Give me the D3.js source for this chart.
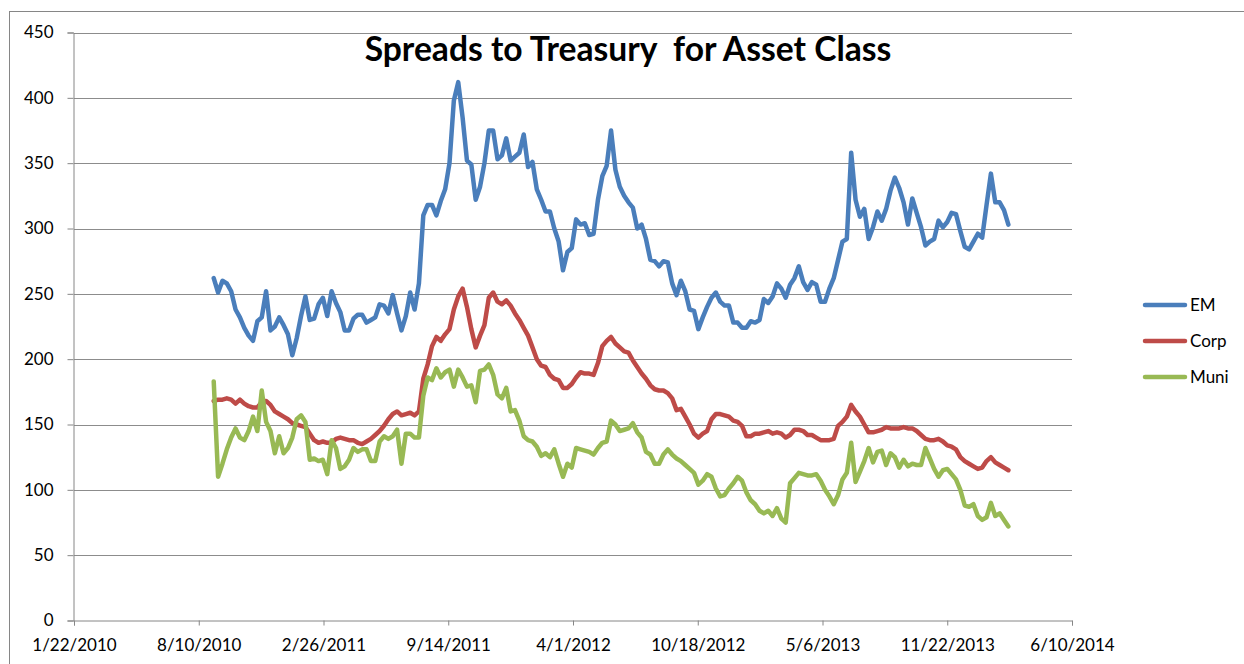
<!DOCTYPE html>
<html>
<head>
<meta charset="utf-8">
<script src="https://cdn.jsdelivr.net/npm/d3@7"></script>
<style>
  body { margin: 0; background: #fff; }
  text { font-family: Lato, "Liberation Sans", sans-serif; fill: #000; }
</style>
</head>
<body>
<script>

// weekly readings, first one on 9/3/2010, last on 2/28/2014
var firstDay = "2010-09-03", lastDay = "2014-02-28";

var emValues = [262,251,260,258,252,238,232,224,218,214,
  229,232,252,222,225,232,226,219,203,216,
  233,248,230,231,242,247,233,252,243,236,
  222,222,231,234,234,228,230,232,242,241,
  235,249,235,222,233,251,238,258,310,318,
  318,310,321,330,350,398,412,385,352,349,
  322,332,350,375,375,353,356,369,352,355,
  358,372,347,351,330,322,313,313,300,290,
  268,282,285,307,303,304,295,296,322,340,
  348,375,345,332,325,320,316,300,303,292,
  276,275,271,275,274,258,249,260,252,238,
  237,223,232,240,247,251,244,241,241,228,
  228,224,224,229,228,230,246,243,248,258,
  254,247,257,262,271,259,253,259,257,244,
  244,254,262,276,290,292,358,322,309,315,
  292,301,313,306,315,329,339,331,320,303,
  323,312,301,287,290,292,306,301,305,312,
  311,298,286,284,290,296,293,318,342,320,
  320,314,303];

var corpValues = [168,169,169,170,169,166,169,166,164,163,
  163,167,168,165,160,158,156,154,151,150,
  149,148,143,138,136,137,136,136,139,140,
  139,138,138,136,135,137,139,142,145,149,
  154,158,160,157,158,159,157,160,185,196,
  210,217,214,219,223,238,248,254,240,223,
  209,218,226,247,251,244,242,245,241,235,
  230,224,218,209,200,195,194,188,185,184,
  178,178,181,186,190,189,189,188,197,210,
  214,217,212,209,206,205,199,194,189,185,
  180,177,176,176,174,170,161,162,156,150,
  143,140,143,145,154,158,158,157,156,153,
  152,149,141,141,143,143,144,145,143,144,
  143,140,142,146,146,145,142,142,140,138,
  138,138,139,149,152,156,165,160,156,150,
  144,144,145,146,148,147,147,147,148,147,
  147,145,142,139,138,138,139,137,134,133,
  131,125,122,120,118,116,117,122,125,121,
  119,117,115];

var muniValues = [183,110,120,131,140,147,140,138,145,156,
  145,176,152,145,128,141,128,132,140,154,
  157,152,123,124,122,123,112,138,132,116,
  118,123,132,129,131,131,122,122,137,141,
  139,141,146,120,143,143,140,140,172,186,
  184,193,186,190,192,179,192,186,179,180,
  167,191,192,196,188,173,170,178,160,161,
  153,141,138,137,133,126,128,125,131,120,
  110,120,117,132,131,130,129,127,132,136,
  137,153,150,145,146,147,151,144,140,129,
  127,120,120,127,131,127,124,122,119,116,
  113,104,107,112,110,101,95,96,101,105,
  110,107,98,92,89,84,82,84,80,86,
  78,75,105,109,113,112,111,111,112,107,
  100,95,89,96,108,113,136,106,114,122,
  132,121,129,130,119,128,125,117,123,118,
  120,119,119,132,124,116,110,115,116,112,
  108,100,88,87,89,80,77,79,90,80,
  82,77,72];

var seriesNames = ["EM", "Corp", "Muni"];
var seriesColors = ["#4a7ebb", "#be4b48", "#98b954"];

var xTickLabels = ["1/22/2010","8/10/2010","2/26/2011","9/14/2011","4/1/2012",
                   "10/18/2012","5/6/2013","11/22/2013","6/10/2014"];
var yTicks = [0,50,100,150,200,250,300,350,400,450];

var titleText = "Spreads to Treasury  for Asset Class";

var width = 1244, height = 664;
var plotLeft = 74, plotRight = 1072, plotTop = 32.5, plotBottom = 620.5;

var parseTick = d3.utcParse("%m/%d/%Y");
var parseDay = d3.utcParse("%Y-%m-%d");
var tickDates = xTickLabels.map(parseTick);

var weeks = d3.utcDay.range(parseDay(firstDay), d3.utcDay.offset(parseDay(lastDay), 1), 7);

var series = [emValues, corpValues, muniValues].map(function(vals, k) {
  return {
    name: seriesNames[k],
    color: seriesColors[k],
    points: vals.map(function(v, i) { return {date: weeks[i], value: v}; })
  };
});

var x = d3.scaleUtc()
  .domain([tickDates[0], tickDates[tickDates.length - 1]])
  .range([plotLeft, plotRight]);

var y = d3.scaleLinear()
  .domain([0, 450])
  .range([plotBottom, plotTop]);

var svg = d3.select("body").append("svg")
  .attr("width", width)
  .attr("height", height);

// outer chart border (runs off the picture at right and bottom)
svg.append("rect")
  .attr("x", 9.5).attr("y", 11.5)
  .attr("width", 1300).attr("height", 700)
  .attr("fill", "none")
  .attr("stroke", "#868686");

// gridlines
svg.append("g")
  .selectAll("line")
  .data(yTicks.filter(function(d) { return d > 0; }))
  .enter().append("line")
  .attr("x1", plotLeft).attr("x2", plotRight)
  .attr("y1", function(d) { return Math.round(y(d)) + 0.5; })
  .attr("y2", function(d) { return Math.round(y(d)) + 0.5; })
  .attr("stroke", "#8c8c8c")
  .attr("stroke-width", 1);

// axes
var yAxis = svg.append("g")
  .attr("transform", "translate(" + (plotLeft - 0.5) + ",0)")
  .call(d3.axisLeft(y).tickValues(yTicks).tickSize(6).tickPadding(14).tickFormat(d3.format("d")));

var xAxis = svg.append("g")
  .attr("transform", "translate(0," + plotBottom + ")")
  .call(d3.axisBottom(x).tickValues(tickDates).tickSize(5).tickPadding(13)
    .tickFormat(function(d, i) { return xTickLabels[i]; }));

[yAxis, xAxis].forEach(function(ax) {
  ax.select(".domain").attr("stroke", "#868686");
  ax.selectAll(".tick line").attr("stroke", "#868686");
  ax.selectAll(".tick text")
    .attr("fill", "#000")
    .style("font-size", "17px")
    .style("font-family", "Lato, 'Liberation Sans', sans-serif");
});

// lines
var line = d3.line()
  .x(function(d) { return x(d.date); })
  .y(function(d) { return y(d.value); });

svg.append("g")
  .selectAll("path")
  .data(series)
  .enter().append("path")
  .attr("d", function(d) { return line(d.points); })
  .attr("fill", "none")
  .attr("stroke", function(d) { return d.color; })
  .attr("stroke-width", 4.5)
  .attr("stroke-linejoin", "round")
  .attr("stroke-linecap", "round");

// title, sized to the width it has in the original
var title = svg.append("text")
  .attr("x", 628)
  .attr("y", 61)
  .attr("text-anchor", "middle")
  .style("font-weight", "bold")
  .style("font-size", "28px")
  .style("white-space", "pre")
  .text(titleText);
var tw = title.node().getComputedTextLength();
title.style("font-size", (28 * 527 / tw) + "px");

// legend
var legend = svg.selectAll("g.legend")
  .data(series)
  .enter().append("g")
  .attr("class", "legend")
  .attr("transform", function(d, i) { return "translate(1145," + (305 + i * 36) + ")"; });

legend.append("line")
  .attr("x1", 0).attr("x2", 40)
  .attr("stroke", function(d) { return d.color; })
  .attr("stroke-width", 4.5)
  .attr("stroke-linecap", "round");

legend.append("text")
  .attr("x", 45)
  .attr("dy", "0.36em")
  .style("font-size", "17px")
  .text(function(d) { return d.name; });

</script>
</body>
</html>
